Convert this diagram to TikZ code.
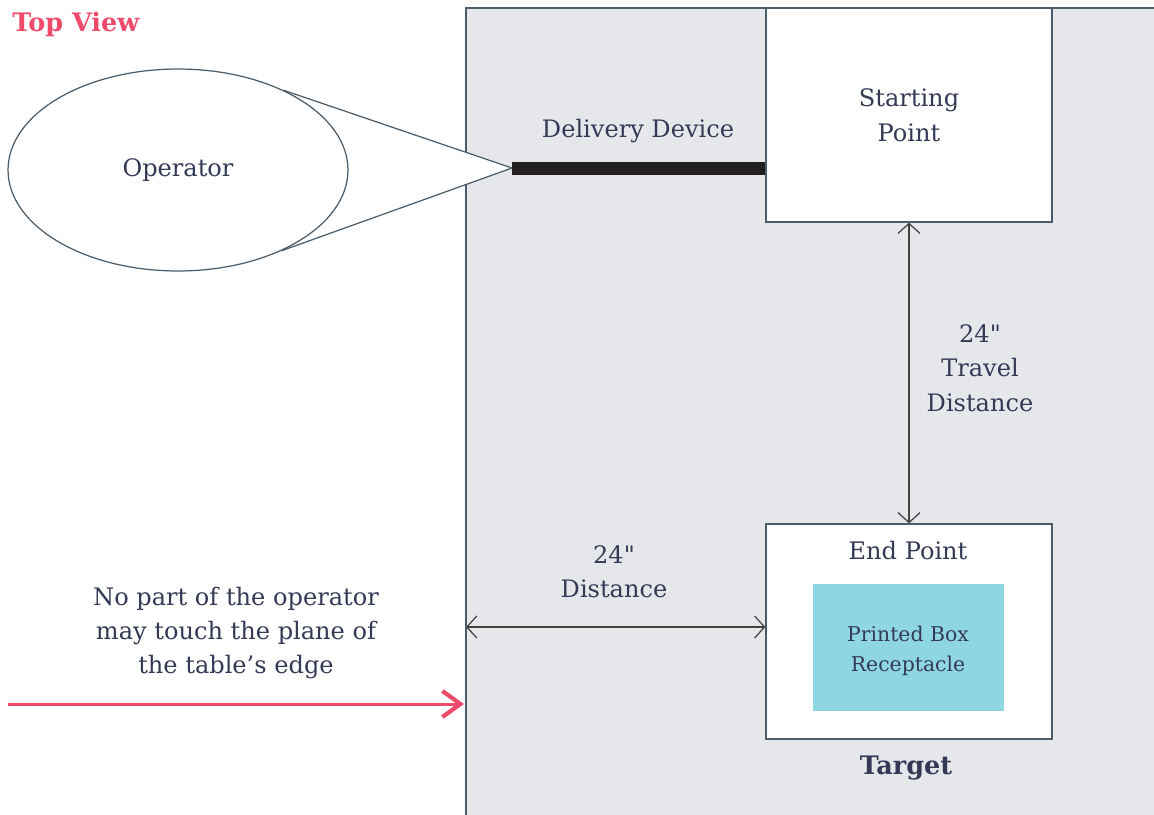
\documentclass[tikz,border=0pt]{standalone}
\usepackage{fontspec}
\setmainfont{DejaVu Serif}
\newfontfamily\plainserif{DejaVu Serif}
\usetikzlibrary{arrows.meta,positioning,shapes.geometric,backgrounds}
\definecolor{ink}{HTML}{343A56}
\definecolor{rimcol}{HTML}{4B5D6B}
\definecolor{tablecol}{HTML}{E6E7EB}
\definecolor{cyancol}{HTML}{8FD6E3}
\definecolor{pinkcol}{HTML}{EE4B6B}
\definecolor{barcol}{HTML}{231F20}
\newcommand{\lblfont}{\fontsize{13.7}{19.5}\selectfont}
\newcommand{\smallfont}{\fontsize{11.6}{17}\selectfont}
\newcommand{\inch}{{\plainserif"}}
\tikzset
{
    pointbox/.style = {rectangle, draw=rimcol, fill=white, line width=0.7pt, inner sep=0pt, minimum width=5.72cm},
    receptacle/.style = {rectangle, fill=cyancol, inner sep=0pt, minimum width=3.82cm, minimum height=2.54cm},
    operator/.style = {ellipse, draw=rimcol, fill=white, line width=0.7pt, inner sep=0pt, minimum width=6.8cm, minimum height=4.04cm, font=\lblfont, text=ink},
    txt/.style = {align=center, font=\lblfont, text=ink, inner sep=0pt},
    heading/.style = {font=\fontsize{14.5}{18}\selectfont\bfseries, inner sep=0pt},
    measure/.style = {{Straight Barb[length=0.2cm,width=0.44cm]}-{Straight Barb[length=0.2cm,width=0.44cm]}, draw=barcol!85, line width=0.7pt},
    edgearrow/.style = {-{Straight Barb[length=0.36cm,width=0.52cm,line width=2.4pt]}, draw=pinkcol, line width=1.7pt},
    device/.style = {draw=barcol, line width=7.4pt}
}

\begin{document}
\begin{tikzpicture}[x=0.02cm, y=-0.02cm]
\useasboundingbox (0,0) rectangle (1154,815);

\node[heading, text=pinkcol, anchor=west] (topview) at (12,24) {Top View};

% operator and delivery device
\coordinate (tip) at (512,168);
\node[operator] (op) at (178,170) {Operator};
\draw[rimcol, line width=0.7pt] (op.37) -- (tip) -- (op.-38);
\begin{scope}[on background layer]
  % table top
  \fill[tablecol] (466,8) rectangle (1154,815);
  \draw[rimcol, line width=0.7pt] (466,815) -- (466,8) -- (1154,8);
  \fill[white] (op.37) -- (tip) -- (op.-38) -- cycle;
\end{scope}

\node[pointbox, minimum height=4.28cm, align=center, font=\lblfont, text=ink, text depth=-6pt] (start) at (909,115) {Starting\\Point};
\draw[device] (tip) -- (tip -| start.west);
\node[txt] (devlabel) at (638,131) {Delivery Device};

% end point
\node[pointbox, minimum height=4.3cm] (end) at (909,631.5) {};
\node[txt] (endlabel) at (908,551) {End Point};
\node[receptacle] (box) at (908.5,647.5) {};
\node[align=center, font=\smallfont, text=ink, inner sep=0pt] (boxlabel) at (908,651) {Printed Box\\Receptacle};
\node[heading, text=ink] (target) at (906,768) {Target};

% distances
\draw[measure] (start.south) -- (end.north);
\node[txt] (travel) at (980,368) {24\inch\\Travel\\Distance};
\coordinate (edge) at (466,627);
\draw[measure] (edge) -- (edge -| end.west);
\node[txt] (dist) at (614,572) {24\inch\\Distance};

% table edge note
\node[txt] (note) at (236,633) {No part of the operator\\may touch the plane of\\the table’s edge};
\coordinate (from) at (8,704);
\coordinate (plane) at (464,704);
\draw[edgearrow] (from) -- (plane);
\end{tikzpicture}
\end{document}
